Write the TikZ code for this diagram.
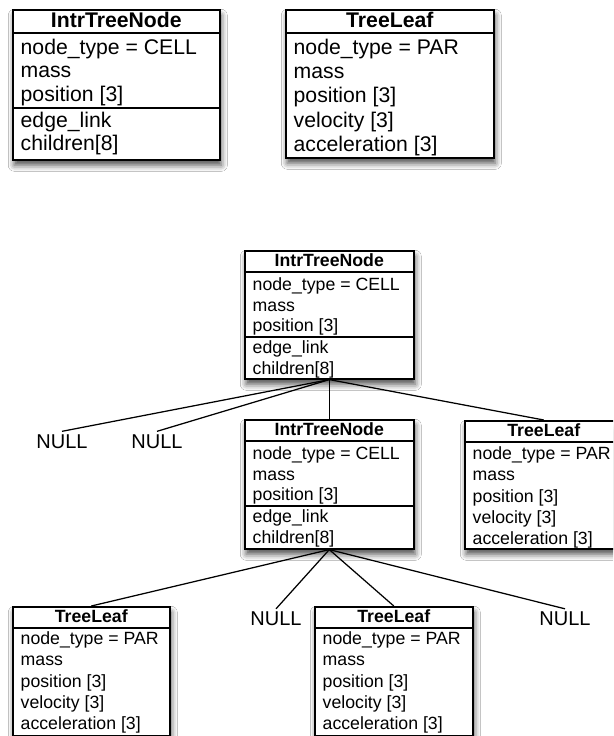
\documentclass[tikz,border=0pt]{standalone}
\usepackage{fontspec}
\setmainfont{Liberation Sans}
\usetikzlibrary{calc,shadows.blur}

% text size inside the class boxes; changed between the two box sizes
\newcommand{\boxfont}{\fontsize{21.2}{25}\selectfont}
\newcommand{\titlebase}{18.3}
\newcommand{\rowinset}{8.5}

\tikzset{
  classframe/.style={draw=black, line width=1.6pt, fill=white, inner sep=0pt,
    anchor=north west,
    blur shadow={shadow xshift=1.5pt, shadow yshift=-5.5pt,
                 shadow blur radius=6pt, shadow opacity=70}},
  divider/.style={line width=1.3pt},
  link/.style={line width=1.25pt},
  rowtext/.style={anchor=base west, inner sep=0pt, font=\boxfont},
  titletext/.style={anchor=base, inner sep=0pt, font={\boxfont\bfseries}},
  nulltext/.style={inner sep=3pt, font=\fontsize{20}{24}\selectfont},
}

% #1 name, #2 x, #3 y (top left), #4 width, #5 height, #6 header height, #7 title
\newcommand{\drawclass}[7]{%
  \node[classframe, minimum width=#4pt, minimum height=#5pt] (#1) at (#2,#3) {};
  \draw[divider] ($(#1.north west)+(0,#6)$) -- ($(#1.north east)+(0,#6)$);
  \node[titletext] (#1-title) at ($(#1.north)+(0,\titlebase)$) {#7};
}
% #1 box name, #2 row id, #3 baseline offset from the top, #4 text
\newcommand{\classrow}[4]{%
  \node[rowtext] (#1-#2) at ($(#1.north west)+(\rowinset,#3)$) {#4};
}
% #1 box name, #2 offset from the top
\newcommand{\classdivider}[2]{%
  \draw[divider] ($(#1.north west)+(0,#2)$) -- ($(#1.north east)+(0,#2)$);
}

\begin{document}
\begin{tikzpicture}[x=1pt, y=-1pt]
  \useasboundingbox (0,0) rectangle (613,736);
  \fill[white] (0,0) rectangle (613,736);
  \clip (0,0) rectangle (613,736);

  % ---- the two record layouts ----
  \drawclass{cellA}{12}{9}{207}{150}{24}{IntrTreeNode}
  \classrow{cellA}{r1}{45}{node\_type = CELL}
  \classrow{cellA}{r2}{68.5}{mass}
  \classrow{cellA}{r3}{92}{position [3]}
  \classdivider{cellA}{99}
  \classrow{cellA}{r4}{118}{edge\_link}
  \classrow{cellA}{r5}{141.5}{children[8]}

  \drawclass{leafA}{285}{9}{208}{148}{24}{TreeLeaf}
  \classrow{leafA}{r1}{45}{node\_type = PAR}
  \classrow{leafA}{r2}{69.4}{mass}
  \classrow{leafA}{r3}{93.8}{position [3]}
  \classrow{leafA}{r4}{118.2}{velocity [3]}
  \classrow{leafA}{r5}{142.6}{acceleration [3]}

  % ---- an example tree ----
  \renewcommand{\boxfont}{\fontsize{17.7}{21}\selectfont}
  \renewcommand{\titlebase}{16.7}

  \drawclass{root}{244}{250}{169}{128}{22}{IntrTreeNode}
  \classrow{root}{r1}{40.5}{node\_type = CELL}
  \classrow{root}{r2}{61}{mass}
  \classrow{root}{r3}{81.5}{position [3]}
  \classdivider{root}{87}
  \classrow{root}{r4}{103}{edge\_link}
  \classrow{root}{r5}{124}{children[8]}

  \drawclass{cell}{244}{419}{169}{129}{22}{IntrTreeNode}
  \classrow{cell}{r1}{40.5}{node\_type = CELL}
  \classrow{cell}{r2}{61}{mass}
  \classrow{cell}{r3}{81.5}{position [3]}
  \classdivider{cell}{87}
  \classrow{cell}{r4}{103}{edge\_link}
  \classrow{cell}{r5}{124}{children[8]}

  \drawclass{leafR}{464}{420}{158}{128}{22}{TreeLeaf}
  \classrow{leafR}{r1}{39.5}{node\_type = PAR}
  \classrow{leafR}{r2}{60.75}{mass}
  \classrow{leafR}{r3}{82}{position [3]}
  \classrow{leafR}{r4}{103.25}{velocity [3]}
  \classrow{leafR}{r5}{124.5}{acceleration [3]}

  \drawclass{leafL}{12}{606}{157}{129}{22}{TreeLeaf}
  \classrow{leafL}{r1}{38.5}{node\_type = PAR}
  \classrow{leafL}{r2}{59.75}{mass}
  \classrow{leafL}{r3}{81}{position [3]}
  \classrow{leafL}{r4}{102.25}{velocity [3]}
  \classrow{leafL}{r5}{123.5}{acceleration [3]}

  \drawclass{leafM}{314}{606}{158}{129}{22}{TreeLeaf}
  \classrow{leafM}{r1}{38.5}{node\_type = PAR}
  \classrow{leafM}{r2}{59.75}{mass}
  \classrow{leafM}{r3}{81}{position [3]}
  \classrow{leafM}{r4}{102.25}{velocity [3]}
  \classrow{leafM}{r5}{123.5}{acceleration [3]}

  % empty child slots
  \node[nulltext] (null1) at (62,441.5) {NULL};
  \node[nulltext] (null2) at (157,441.5) {NULL};
  \node[nulltext] (null3) at (276,619) {NULL};
  \node[nulltext] (null4) at (565,619) {NULL};

  % child pointers
  \draw[link] (root.south) -- (null1.north);
  \draw[link] (root.south) -- (null2.north);
  \draw[link] (root.south) -- (cell.north);
  \draw[link] (root.south) -- (leafR.north);

  \draw[link] (cell.south) -- (leafL.north);
  \draw[link] (cell.south) -- (null3.north);
  \draw[link] (cell.south) -- (leafM.north);
  \draw[link] (cell.south) -- (null4.north);
\end{tikzpicture}
\end{document}
